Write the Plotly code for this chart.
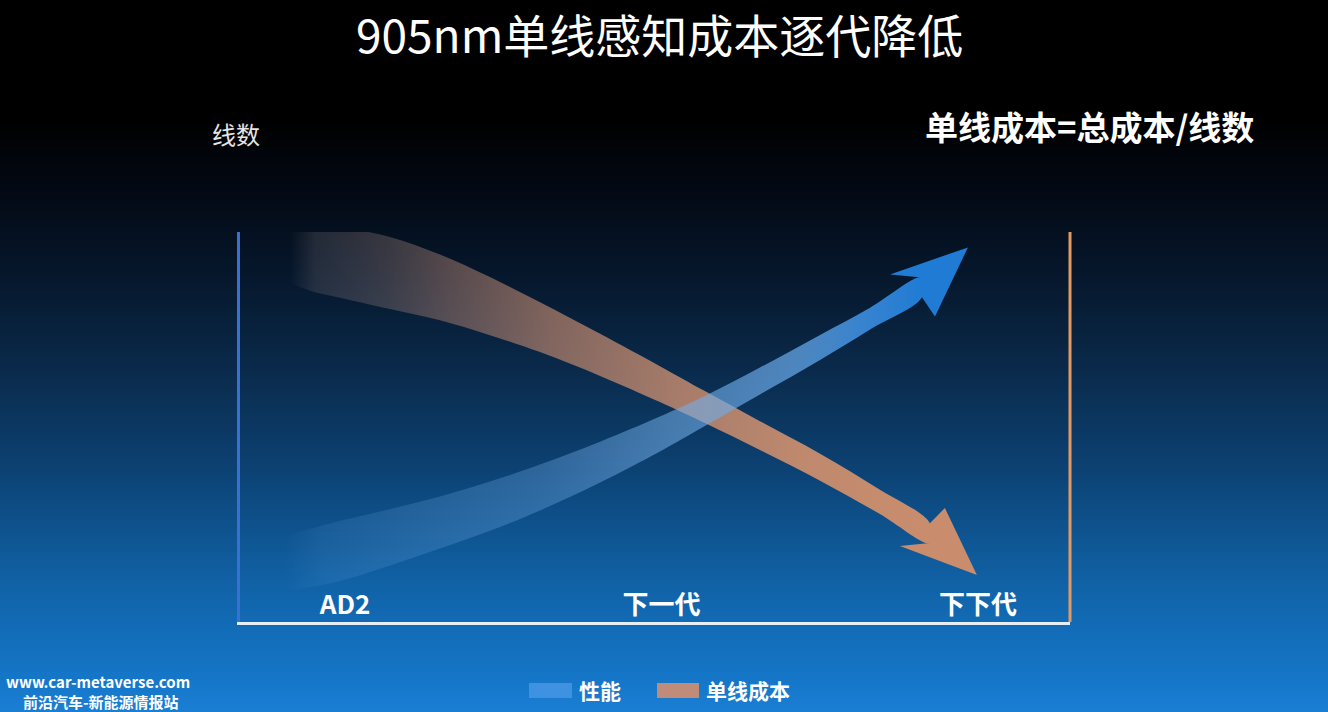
import plotly.graph_objects as go

# ---------------- data ----------------
categories = ["AD2", "下一代", "下下代"]
category_pos = [0, 1, 2]

# 性能 (performance / line count) band: centre line and band thickness (y units)
perf_x = [-0.190, -0.111, -0.016, 0.142, 0.300, 0.458, 0.616, 0.806, 0.995, 1.137, 1.311, 1.501, 1.659, 1.823]
perf_y = [1.50, 1.64, 1.82, 2.17, 2.55, 2.97, 3.45, 4.10, 4.82, 5.41, 6.18, 7.04, 7.78, 8.58]
perf_w = [1.44, 1.49, 1.54, 1.44, 1.33, 1.26, 1.18, 1.05, 0.90, 0.77, 0.69, 0.64, 0.56, 0.51]

# 单线成本 (cost per line) band
cost_x = [-0.174, -0.111, -0.016, 0.142, 0.300, 0.458, 0.616, 0.806, 0.995, 1.137, 1.311, 1.501, 1.690, 1.848]
cost_y = [9.33, 9.29, 9.21, 8.95, 8.58, 8.10, 7.56, 6.85, 6.10, 5.51, 4.78, 3.97, 3.08, 2.28]
cost_w = [1.28, 1.59, 1.79, 1.85, 1.69, 1.49, 1.28, 1.08, 0.92, 0.82, 0.74, 0.69, 0.62, 0.51]

series_names = ["性能", "单线成本"]
title_text = "905nm单线感知成本逐代降低"

# ---------------- layout geometry / style ----------------
W, H = 1328, 712
L, R, T, B = 240, 1070, 232, 622
X_RANGE = [-0.3318, 2.2907]
Y_RANGE = [0, 10]
FONT = "Noto Sans CJK SC"

def px_x(px):   # pixel -> paper x
    return (px - L) / (R - L)

def px_y(py):   # pixel -> paper y
    return (B - py) / (B - T)

def dx_px(d):   # pixel offset -> data x offset
    return d * (X_RANGE[1] - X_RANGE[0]) / (R - L)

def dy_px(d):   # pixel offset (down positive) -> data y offset
    return -d * (Y_RANGE[1] - Y_RANGE[0]) / (B - T)

fig = go.Figure()

# ---- background vertical gradient (strips) ----
bg_stops = [(0, (0, 0, 0)), (120, (0, 0, 0)), (170, (2, 6, 14)), (220, (4, 14, 28)),
            (270, (6, 22, 42)), (320, (8, 32, 58)), (370, (10, 42, 75)), (420, (11, 54, 95)),
            (470, (12, 66, 115)), (520, (14, 80, 138)), (570, (16, 94, 160)),
            (620, (18, 106, 180)), (670, (20, 116, 196)), (712, (26, 126, 212))]

def bg_color(py):
    for (y0, c0), (y1, c1) in zip(bg_stops[:-1], bg_stops[1:]):
        if y0 <= py <= y1:
            t = (py - y0) / (y1 - y0) if y1 > y0 else 0
            return "rgb(%d,%d,%d)" % tuple(round(a + (b - a) * t) for a, b in zip(c0, c1))
    return "rgb(26,126,212)"

shapes = []
step = 4
for py in range(100, H, step):
    shapes.append(dict(type="rect", xref="paper", yref="paper", layer="below",
                       x0=px_x(0), x1=px_x(W), y0=px_y(py + step + 1), y1=px_y(py),
                       fillcolor=bg_color(py + step / 2), line=dict(width=0)))


def band(xs, ys, ws, colorscale, head_offsets, head_color, name):
    upper = [y + w / 2 for y, w in zip(ys, ws)]
    lower = [y - w / 2 for y, w in zip(ys, ws)]
    fig.add_trace(go.Scatter(
        x=list(xs) + list(xs[::-1]), y=upper + lower[::-1],
        mode="lines", fill="toself", line=dict(width=0, shape="spline", smoothing=1),
        fillgradient=dict(type="horizontal", colorscale=colorscale),
        name=name, hoverinfo="skip", showlegend=False))
    jx, jy = xs[-1], ys[-1]
    hx = [jx, jx + dx_px(head_offsets[0][0]), jx + dx_px(head_offsets[1][0]),
          jx + dx_px(head_offsets[2][0]), jx, jx]
    hy = [upper[-1], jy + dy_px(head_offsets[0][1]), jy + dy_px(head_offsets[1][1]),
          jy + dy_px(head_offsets[2][1]), lower[-1], upper[-1]]
    fig.add_trace(go.Scatter(x=hx, y=hy, mode="lines", fill="toself",
                             fillcolor=head_color, line=dict(width=0),
                             name=name, hoverinfo="skip", showlegend=False))


cost_scale = [[0.0, "rgba(120,115,125,0.0)"], [0.04, "rgba(125,118,125,0.25)"],
              [0.15, "rgba(150,125,120,0.35)"], [0.25, "rgba(175,130,115,0.48)"],
              [0.4, "rgba(195,138,112,0.64)"], [0.6, "rgba(200,140,110,0.82)"],
              [0.8, "rgba(201,141,109,0.95)"], [1.0, "rgba(201,141,109,1)"]]
perf_scale = [[0.0, "rgba(110,170,230,0.0)"], [0.06, "rgba(110,170,230,0.12)"],
              [0.2, "rgba(110,170,230,0.22)"], [0.4, "rgba(110,170,230,0.35)"],
              [0.6, "rgba(118,176,234,0.55)"], [0.8, "rgba(100,165,228,0.75)"],
              [0.9, "rgba(60,140,220,0.92)"], [1.0, "rgba(31,123,212,1)"]]

# head offsets in pixels relative to the end of the centre line: wing, tip, wing
band(cost_x, cost_y, cost_w, cost_scale, [(15, -25), (47, 42), (-30, 13)],
     "rgb(201,141,109)", series_names[1])
band(perf_x, perf_y, perf_w, perf_scale, [(-32, -13), (46, -40), (13, 29)],
     "rgb(31,123,212)", series_names[0])

# right orange frame line
shapes.append(dict(type="line", xref="paper", yref="paper", x0=1, x1=1, y0=0, y1=1,
                   line=dict(color="#e39a62", width=3)))

# legend swatches
shapes.append(dict(type="rect", xref="paper", yref="paper", x0=px_x(529), x1=px_x(572),
                   y0=px_y(698), y1=px_y(683), fillcolor="#3f92e2", line=dict(width=0)))
shapes.append(dict(type="rect", xref="paper", yref="paper", x0=px_x(657), x1=px_x(699),
                   y0=px_y(698), y1=px_y(683), fillcolor="#be8c78", line=dict(width=0)))

annotations = [
    dict(text=title_text, x=px_x(659), y=px_y(33), font=dict(size=46, color="white", family=FONT)),
    dict(text="线数", x=px_x(236), y=px_y(133), font=dict(size=24, color="#e6e6e6", family=FONT)),
    dict(text="<b>单线成本=总成本/线数</b>", x=px_x(1089), y=px_y(126),
         font=dict(size=33, color="white", family=FONT)),
    dict(text="<b>" + series_names[0] + "</b>", x=px_x(577), y=px_y(690), xanchor="left",
         font=dict(size=21, color="white", family=FONT)),
    dict(text="<b>" + series_names[1] + "</b>", x=px_x(704), y=px_y(690), xanchor="left",
         font=dict(size=21, color="white", family=FONT)),
    dict(text="<b>www.car-metaverse.com</b>", x=px_x(4), y=px_y(681), xanchor="left",
         font=dict(size=15, color="white", family=FONT)),
    dict(text="<b>前沿汽车-新能源情报站</b>", x=px_x(21), y=px_y(701), xanchor="left",
         font=dict(size=15, color="white", family=FONT)),
]
for a in annotations:
    a.setdefault("xanchor", "center")
    a.update(xref="paper", yref="paper", yanchor="middle", showarrow=False)

fig.update_layout(
    width=W, height=H, autosize=False,
    margin=dict(l=L, r=W - R, t=T, b=H - B, pad=0),
    paper_bgcolor="black", plot_bgcolor="rgba(0,0,0,0)",
    xaxis=dict(range=X_RANGE, showgrid=False, zeroline=False, showline=True,
               linecolor="#e6eef8", linewidth=3, ticks="", tickvals=category_pos,
               ticktext=["<b>%s</b>" % c for c in categories],
               ticklabelposition="inside", ticklabelstandoff=5,
               tickfont=dict(size=26, color="white", family=FONT), fixedrange=True),
    yaxis=dict(range=Y_RANGE, showgrid=False, zeroline=False, showline=True,
               linecolor="#3a6fd4", linewidth=3, ticks="", showticklabels=False,
               fixedrange=True),
    shapes=shapes, annotations=annotations, showlegend=False,
)

fig.write_html("out.html", config={"displayModeBar": False},
               post_script="document.body.style.margin='0';document.body.style.overflow='hidden';")
